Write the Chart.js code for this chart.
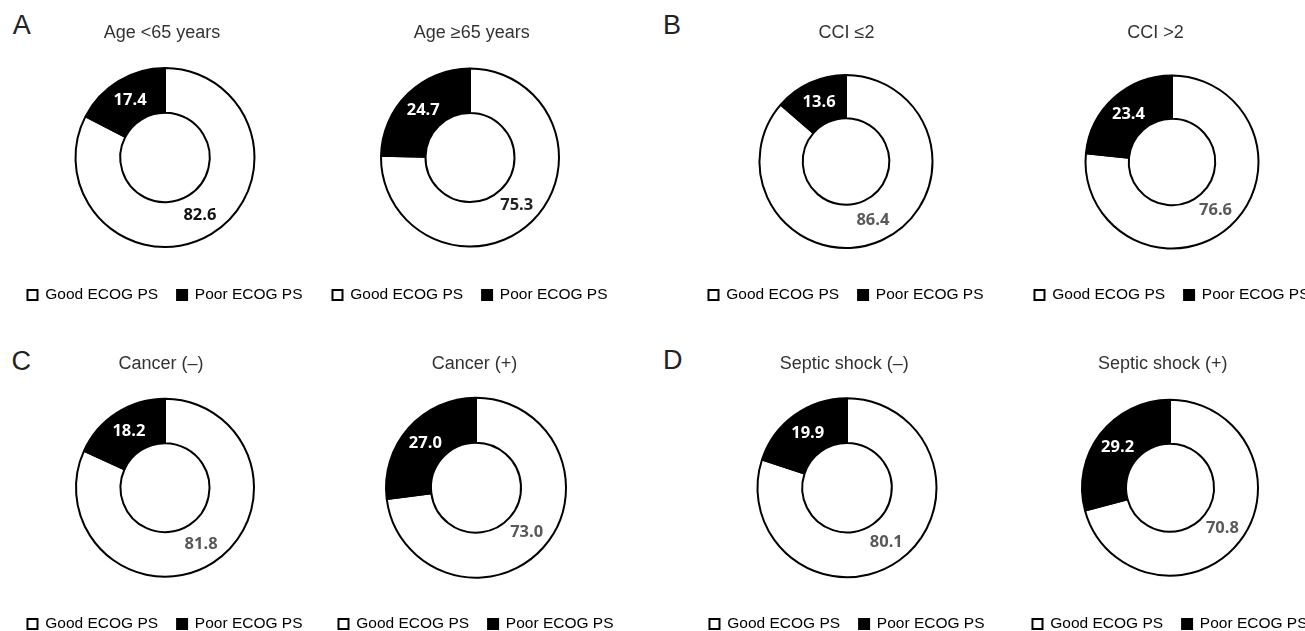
<!DOCTYPE html>
<html><head><meta charset="utf-8">
<script src="https://cdn.jsdelivr.net/npm/chart.js@4.4.1/dist/chart.umd.min.js"></script>
<style>
html,body{margin:0;padding:0;background:#fff;overflow:hidden;width:1305px;height:631px;position:relative;}
.c{position:absolute;}
.letter{position:absolute;font-family:"Liberation Sans",Arial,sans-serif;font-size:27px;line-height:27px;color:#222;}
</style></head><body>
<script>
// ---- data ----
const categories = ['Good ECOG PS', 'Poor ECOG PS'];
const titles = ['Age <65 years', 'Age \u226565 years', 'CCI \u22642', 'CCI >2',
                'Cancer (\u2013)', 'Cancer (+)', 'Septic shock (\u2013)', 'Septic shock (+)'];
const goodPS = [82.6, 75.3, 86.4, 76.6, 81.8, 73.0, 80.1, 70.8];
const poorPS = [17.4, 24.7, 13.6, 23.4, 18.2, 27.0, 19.9, 29.2];
const panelLetters = ['A', 'B', 'C', 'D'];

// ---- layout (positions / styles) ----
const rows = [
  {top: 0,   H: 315, padB: 2.25, titleY: 38},
  {top: 316, H: 330, padB: 4.25, titleY: 53}
];
const spec = [
  {row: 0, cx: 165,    cy: 157.5, r: 89.5, tx: 162,    vcol: '#111'},
  {row: 0, cx: 470,    cy: 157.5, r: 89,   tx: 471.7,  vcol: '#222'},
  {row: 0, cx: 845.5,  cy: 161.5, r: 86.5, tx: 846,    vcol: '#595959'},
  {row: 0, cx: 1171.5, cy: 162,   r: 86.5, tx: 1155,   vcol: '#595959'},
  {row: 1, cx: 165,    cy: 487.7, r: 89,   tx: 161,    vcol: '#595959'},
  {row: 1, cx: 476,    cy: 487.7, r: 90,   tx: 474.5,  vcol: '#595959'},
  {row: 1, cx: 846.5,  cy: 487.7, r: 89.5, tx: 843.7,  vcol: '#595959'},
  {row: 1, cx: 1170,   cy: 487.7, r: 88,   tx: 1162.7, vcol: '#595959'}
];
const letterPos = [{x: 12.7, y: 35}, {x: 663, y: 35}, {x: 11.5, y: 371}, {x: 663, y: 370}];
const W = 340;

panelLetters.forEach((L, k) => {
  const d = document.createElement('div');
  d.className = 'letter';
  d.textContent = L;
  d.style.left = letterPos[k].x + 'px';
  d.style.top = (letterPos[k].y - 22.8) + 'px';
  document.body.appendChild(d);
});

spec.forEach((s, i) => {
  const row = rows[s.row];
  const left = s.cx - W / 2;
  const div = document.createElement('div');
  div.className = 'c';
  div.style.left = left + 'px';
  div.style.top = row.top + 'px';
  div.style.width = W + 'px';
  div.style.height = row.H + 'px';
  const cv = document.createElement('canvas');
  div.appendChild(cv);
  document.body.appendChild(div);

  const chartAreaBottom = row.H - row.padB - (15.5 + 19 + 10);
  const cyLocal = s.cy - row.top;
  const padTop = 2 * cyLocal - chartAreaBottom;

  const textPlugin = {
    id: 'textPlugin' + i,
    afterDatasetsDraw(chart) {
      const ctx = chart.ctx;
      ctx.save();
      // title
      ctx.font = '18px "Liberation Sans", Arial, sans-serif';
      ctx.fillStyle = '#333';
      ctx.textAlign = 'center';
      ctx.textBaseline = 'alphabetic';
      ctx.fillText(titles[i], s.tx - left, row.titleY);
      // value labels
      const meta = chart.getDatasetMeta(0);
      ctx.font = 'bold 16.5px "Open Sans", "Noto Sans", sans-serif';
      ctx.textAlign = 'center';
      ctx.textBaseline = 'middle';
      meta.data.forEach((arc, j) => {
        const p = arc.tooltipPosition();
        ctx.fillStyle = j === 1 ? '#fff' : s.vcol;
        const v = chart.data.datasets[0].data[j];
        ctx.fillText(v.toFixed(1), p.x, p.y);
      });
      ctx.restore();
    }
  };

  new Chart(cv, {
    type: 'doughnut',
    data: {
      labels: categories,
      datasets: [{
        data: [goodPS[i], poorPS[i]],
        backgroundColor: ['#ffffff', '#000000'],
        borderColor: '#000000',
        borderWidth: 2
      }]
    },
    options: {
      responsive: true,
      maintainAspectRatio: false,
      animation: false,
      radius: s.r,
      cutout: '50%',
      layout: {padding: {top: padTop, bottom: row.padB, left: 0, right: 0}},
      events: [],
      plugins: {
        tooltip: {enabled: false},
        title: {display: false},
        legend: {
          display: true,
          position: 'bottom',
          labels: {
            boxWidth: 10,
            boxHeight: 10,
            padding: 19,
            color: '#222',
            font: {size: 15.5, family: '"Liberation Sans", Arial, sans-serif'},
            generateLabels: () => categories.map((c, j) => ({
              text: c,
              fillStyle: j === 0 ? '#ffffff' : '#000000',
              strokeStyle: '#000000',
              lineWidth: 2,
              hidden: false,
              index: j
            }))
          }
        }
      }
    },
    plugins: [textPlugin]
  });
});
</script>
</body></html>
